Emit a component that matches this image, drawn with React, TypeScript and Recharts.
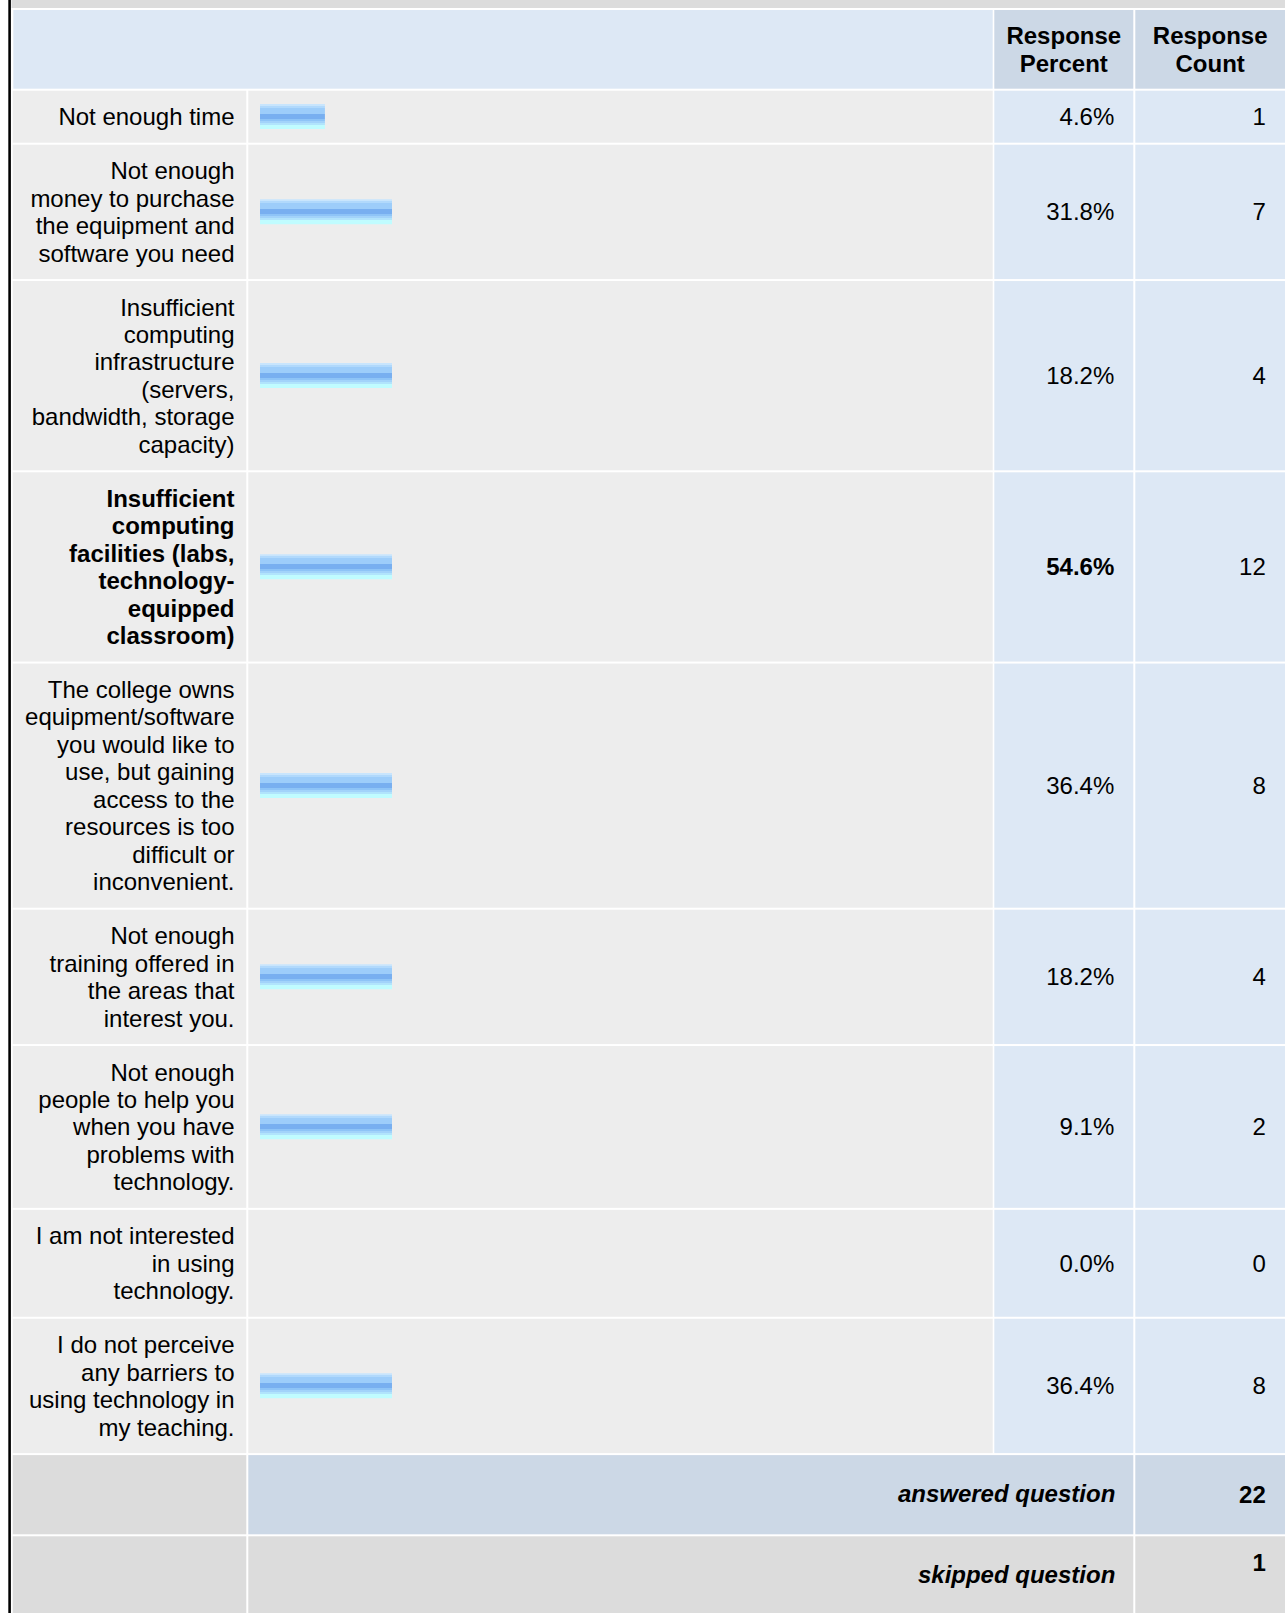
import React from 'react';
import { ComposedChart, Bar, XAxis, YAxis, Customized } from 'recharts';

// ---------- data ----------
const answerLabels: string[][] = [
  ['Not enough time'],
  ['Not enough', 'money to purchase', 'the equipment and', 'software you need'],
  ['Insufficient', 'computing', 'infrastructure', '(servers,', 'bandwidth, storage', 'capacity)'],
  ['Insufficient', 'computing', 'facilities (labs,', 'technology-', 'equipped', 'classroom)'],
  ['The college owns', 'equipment/software', 'you would like to', 'use, but gaining', 'access to the', 'resources is too', 'difficult or', 'inconvenient.'],
  ['Not enough', 'training offered in', 'the areas that', 'interest you.'],
  ['Not enough', 'people to help you', 'when you have', 'problems with', 'technology.'],
  ['I am not interested', 'in using', 'technology.'],
  ['I do not perceive', 'any barriers to', 'using technology in', 'my teaching.'],
];
const responsePercent: number[] = [4.6, 31.8, 18.2, 54.6, 36.4, 18.2, 9.1, 0.0, 36.4];
const responseCount: number[] = [1, 7, 4, 12, 8, 4, 2, 0, 8];
// bar length as drawn in the picture, in % of the bar column width
const barLength: number[] = [9.0, 18.3, 18.3, 18.3, 18.3, 18.3, 18.3, 0, 18.3];
const highlightedRow = 3;
const headerPercent: string[] = ['Response', 'Percent'];
const headerCount: string[] = ['Response', 'Count'];
const answeredLabel = 'answered question';
const skippedLabel = 'skipped question';
const answeredQuestion = 22;
const skippedQuestion = 1;

// ---------- layout ----------
const W = 1287;
const H = 1613;
const FONT = "'Liberation Sans', Arial, Helvetica, sans-serif";
const FS = 24;
const LH = 27.45;
const PAD = 26.55;
const GAP = 2;
const ROW_TOP = 90.7;
const CAP = 23.7 * 0.716 / 2;
const COL = {
  label: [12.7, 246.3],
  bar: [248.3, 992.7],
  pct: [994.3, 1133.3],
  cnt: [1135.3, 1285],
};
const BAR_X0 = 260;
const BAR_X100 = 981.3;

const C_GRAY = '#dcdcdc';
const C_ROW = '#ededed';
const C_BLUE = '#dde8f5';
const C_BLUE2 = '#ccd8e6';

const rowLayout = (() => {
  let y = ROW_TOP;
  return answerLabels.map((lines) => {
    const h = LH * lines.length + PAD;
    const r = { y0: y, h, mid: y + (h - GAP) / 2 };
    y += h;
    return r;
  });
})();
const ROWS_END = rowLayout[rowLayout.length - 1].y0 + rowLayout[rowLayout.length - 1].h;
const ANS_Y0 = ROWS_END;
const ANS_Y1 = ANS_Y0 + 79.2;
const SKIP_Y0 = ANS_Y1 + GAP;

const chartData = answerLabels.map((lines, i) => ({
  name: lines.join(' '),
  mid: rowLayout[i].mid,
  bar: barLength[i],
}));

const cell = (x: number[], y0: number, y1: number, fill: string, key: string) => (
  <rect key={key} x={x[0]} y={y0} width={x[1] - x[0]} height={y1 - y0} fill={fill} />
);

const BackgroundLayer = () => (
  <g>
    <defs>
      <linearGradient id="surveyBarGrad" x1="0" y1="0" x2="0" y2="1">
        <stop offset="0" stopColor="#c8e5fd" />
        <stop offset="0.08" stopColor="#c8e5fd" />
        <stop offset="0.08" stopColor="#b1d9fc" />
        <stop offset="0.16" stopColor="#b1d9fc" />
        <stop offset="0.16" stopColor="#9dcdfa" />
        <stop offset="0.40" stopColor="#9dcdfa" />
        <stop offset="0.40" stopColor="#78aff0" />
        <stop offset="0.60" stopColor="#78aff0" />
        <stop offset="0.60" stopColor="#8ec4f7" />
        <stop offset="0.68" stopColor="#8ec4f7" />
        <stop offset="0.68" stopColor="#a2d3fa" />
        <stop offset="0.76" stopColor="#a2d3fa" />
        <stop offset="0.76" stopColor="#b1e4fc" />
        <stop offset="0.84" stopColor="#b1e4fc" />
        <stop offset="0.84" stopColor="#c0fcff" />
        <stop offset="1" stopColor="#c0fcff" />
      </linearGradient>
    </defs>
    <rect x={0} y={0} width={W} height={H} fill="#ffffff" />
    {/* top grey strip */}
    <rect x={11.5} y={0} width={1285 - 11.5} height={8} fill={C_GRAY} />
    {/* header */}
    {cell([13.3, 992.7], 10, 88.7, C_BLUE, 'h0')}
    {cell(COL.pct, 10, 88.7, C_BLUE2, 'h1')}
    {cell(COL.cnt, 10, 88.7, C_BLUE2, 'h2')}
    {rowLayout.map((r, i) => (
      <g key={`r${i}`}>
        {cell(COL.label, r.y0, r.y0 + r.h - GAP, C_ROW, `l${i}`)}
        {cell(COL.bar, r.y0, r.y0 + r.h - GAP, C_ROW, `b${i}`)}
        {cell(COL.pct, r.y0, r.y0 + r.h - GAP, C_BLUE, `p${i}`)}
        {cell(COL.cnt, r.y0, r.y0 + r.h - GAP, C_BLUE, `c${i}`)}
      </g>
    ))}
    {/* answered row */}
    {cell(COL.label, ANS_Y0, ANS_Y1, C_GRAY, 'a0')}
    {cell([COL.bar[0], COL.pct[1]], ANS_Y0, ANS_Y1, C_BLUE2, 'a1')}
    {cell(COL.cnt, ANS_Y0, ANS_Y1, C_BLUE2, 'a2')}
    {/* skipped row */}
    {cell(COL.label, SKIP_Y0, H + 20, C_GRAY, 's0')}
    {cell([COL.bar[0], COL.pct[1]], SKIP_Y0, H + 20, C_GRAY, 's1')}
    {cell(COL.cnt, SKIP_Y0, H + 20, C_GRAY, 's2')}
    {/* left black border */}
    <rect x={8.3} y={0} width={2.6} height={H} fill="#000000" />
  </g>
);

const TextLayer = () => (
  <g fontFamily={FONT} fontSize={FS} fill="#000000">
    {/* header */}
    {headerPercent.map((t, i) => (
      <text key={`hp${i}`} x={(COL.pct[0] + COL.pct[1]) / 2} y={43.7 + i * 28} textAnchor="middle" fontWeight="bold">{t}</text>
    ))}
    {headerCount.map((t, i) => (
      <text key={`hc${i}`} x={(COL.cnt[0] + COL.cnt[1]) / 2} y={43.7 + i * 28} textAnchor="middle" fontWeight="bold">{t}</text>
    ))}
    {rowLayout.map((r, i) => {
      const lines = answerLabels[i];
      const bold = i === highlightedRow;
      return (
        <g key={`t${i}`}>
          {lines.map((ln, j) => (
            <text
              key={j}
              x={234.5}
              y={r.mid + (j - (lines.length - 1) / 2) * LH + CAP}
              textAnchor="end"
              fontWeight={bold ? 'bold' : 'normal'}
            >
              {ln}
            </text>
          ))}
          <text x={1114.3} y={r.mid + CAP} textAnchor="end" fontWeight={bold ? 'bold' : 'normal'}>
            {responsePercent[i].toFixed(1) + '%'}
          </text>
          <text x={1265.8} y={r.mid + CAP} textAnchor="end">
            {String(responseCount[i])}
          </text>
        </g>
      );
    })}
    <text x={1115.3} y={1502} textAnchor="end" fontWeight="bold" fontStyle="italic">{answeredLabel}</text>
    <text x={1265.8} y={1502.5} textAnchor="end" fontWeight="bold">{String(answeredQuestion)}</text>
    <text x={1115.3} y={1583.3} textAnchor="end" fontWeight="bold" fontStyle="italic">{skippedLabel}</text>
    <text x={1265.8} y={1570.7} textAnchor="end" fontWeight="bold">{String(skippedQuestion)}</text>
  </g>
);

export default function App() {
  return (
    <div style={{ position: 'absolute', left: 0, top: 0, width: W, height: H, background: '#ffffff' }}>
      <ComposedChart
        width={W}
        height={H}
        layout="vertical"
        data={chartData}
        margin={{ top: 0, right: W - BAR_X100, bottom: 0, left: BAR_X0 }}
      >
        <Customized component={BackgroundLayer} />
        <XAxis type="number" dataKey="bar" domain={[0, 100]} hide allowDataOverflow height={0} />
        <YAxis type="number" dataKey="mid" domain={[0, H]} hide allowDataOverflow width={0} />
        <Bar dataKey="bar" barSize={25} fill="url(#surveyBarGrad)" isAnimationActive={false} />
        <Customized component={TextLayer} />
      </ComposedChart>
    </div>
  );
}
